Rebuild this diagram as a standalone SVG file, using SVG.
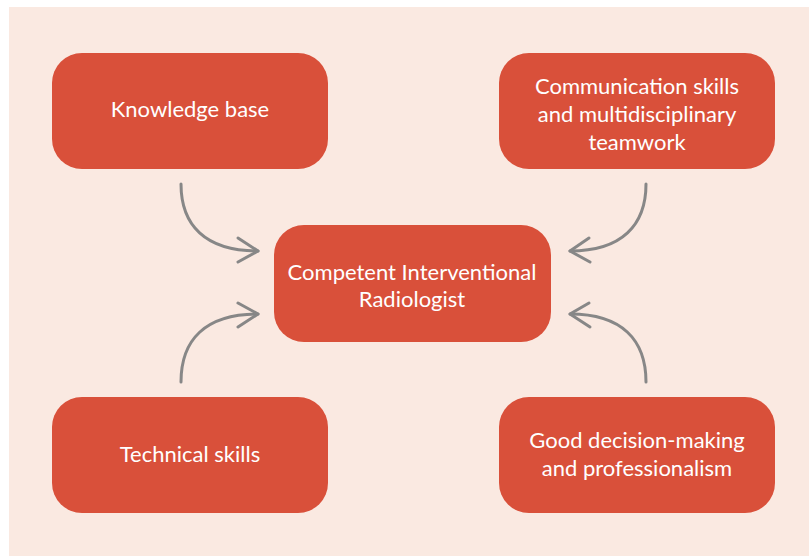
<svg xmlns="http://www.w3.org/2000/svg" width="809" height="556" viewBox="0 0 809 556">
<style>
.box{fill:#D9503A;}
.t{font-family:Lato,"Liberation Sans",sans-serif;font-size:22px;fill:#ffffff;text-anchor:middle;}
.c{fill:none;stroke:#878787;stroke-width:3;stroke-linecap:round;stroke-linejoin:round;}
</style>
<rect x="0" y="0" width="809" height="556" fill="#ffffff"/>
<rect x="9" y="7" width="800" height="549" fill="#FAE9E1"/>
<g id="connectors">
<path class="c" d="M181,184 C181,225 205,251 258,251"/>
<path class="c" d="M238,238 L258,251 L238,262"/>
<path class="c" d="M646,184 C646,225 622,251 570,251"/>
<path class="c" d="M589,238 L570,251 L590,262"/>
<path class="c" d="M181,382 C181,340 205,314 258,314"/>
<path class="c" d="M238,303 L258,314 L238,327"/>
<path class="c" d="M646,382 C646,340 622,314 570,314"/>
<path class="c" d="M589,303 L570,314 L590,327"/>
</g>
<g id="knowledge">
<rect class="box" x="52" y="53" width="276" height="116" rx="30"/>
<text class="t" x="190" y="117">Knowledge base</text>
</g>
<g id="communication">
<rect class="box" x="499" y="53" width="276" height="116" rx="30"/>
<text class="t" x="637" y="94">Communication skills</text>
<text class="t" x="637" y="122">and multidisciplinary</text>
<text class="t" x="637" y="150">teamwork</text>
</g>
<g id="center">
<rect class="box" x="274" y="225" width="277" height="117" rx="30"/>
<text class="t" x="412" y="280">Competent Interventional</text>
<text class="t" x="412" y="307">Radiologist</text>
</g>
<g id="technical">
<rect class="box" x="52" y="397" width="276" height="116" rx="30"/>
<text class="t" x="190" y="462">Technical skills</text>
</g>
<g id="decision">
<rect class="box" x="499" y="397" width="276" height="116" rx="30"/>
<text class="t" x="637" y="448">Good decision-making</text>
<text class="t" x="637" y="476">and professionalism</text>
</g>
</svg>
